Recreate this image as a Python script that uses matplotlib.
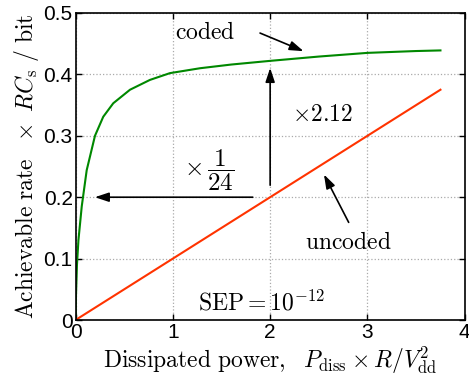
import matplotlib
matplotlib.use("Agg")
import matplotlib.pyplot as plt

plt.rcParams['mathtext.fontset'] = 'cm'
plt.rcParams['font.family'] = ['Liberation Sans', 'DejaVu Sans']

# data
coded_x = [0.0, 0.005, 0.015, 0.03, 0.064, 0.115, 0.2, 0.285, 0.388, 0.56, 0.765,
           0.97, 1.28, 1.6, 2.0, 2.5, 3.0, 3.5, 3.75]
coded_y = [0.0, 0.04, 0.09, 0.13, 0.185, 0.244, 0.30, 0.331, 0.353, 0.375, 0.391,
           0.402, 0.41, 0.416, 0.422, 0.429, 0.435, 0.438, 0.439]
uncoded_x = [0.0, 3.75]
uncoded_y = [0.0, 0.375]

fig = plt.figure(figsize=(4.69, 3.81), dpi=100)
ax = fig.add_axes([0.161, 0.160, 0.830, 0.806])

ax.plot(coded_x, coded_y, color='#008800', linewidth=1.5)
ax.plot(uncoded_x, uncoded_y, color='#ff3300', linewidth=1.5)

ax.set_xlim(0, 4)
ax.set_ylim(0, 0.5)
ax.set_xticks([0, 1, 2, 3, 4])
ax.set_yticks([0, 0.1, 0.2, 0.3, 0.4, 0.5])
ax.set_yticklabels(['0', '0.1', '0.2', '0.3', '0.4', '0.5'])
ax.tick_params(direction='in', top=True, right=True, labelsize=15, length=4, width=1, pad=2)
ax.grid(True, linestyle=':', color='#aaaaaa', linewidth=0.9)
for s in ax.spines.values():
    s.set_linewidth(1.2)

ax.set_xlabel(r'$\mathrm{Dissipated\ power,}\ \ P_{\mathrm{diss}}\times R/V_{\mathrm{dd}}^{2}$',
              fontsize=17, labelpad=2)
ax.set_ylabel(r'$\mathrm{Achievable\ rate}\ \ \times\ RC_{\mathrm{s}}\ /\ \mathrm{bit}$',
              fontsize=17, labelpad=2)

arr = dict(arrowstyle='-|>,head_length=0.6,head_width=0.2', color='black', lw=1.2,
           mutation_scale=14)
ax.annotate('', xy=(2.37, 0.436), xytext=(1.87, 0.469), arrowprops=arr)
ax.text(1.33, 0.467, r'$\mathrm{coded}$', fontsize=17, ha='center', va='center')

ax.annotate('', xy=(2.0, 0.415), xytext=(2.0, 0.215), arrowprops=arr)
ax.text(2.54, 0.334, r'$\times 2.12$', fontsize=17, ha='center', va='center')

ax.annotate('', xy=(0.17, 0.2), xytext=(1.85, 0.2), arrowprops=arr)
ax.text(1.37, 0.244, r'$\times\,\dfrac{1}{24}$', fontsize=18, ha='center', va='center')

ax.annotate('', xy=(2.54, 0.241), xytext=(2.82, 0.155), arrowprops=arr)
ax.text(2.8, 0.125, r'$\mathrm{uncoded}$', fontsize=17, ha='center', va='center')

ax.text(1.91, 0.028, r'$\mathrm{SEP}=10^{-12}$', fontsize=17, ha='center', va='center')

fig.savefig('out.png', dpi=100)
